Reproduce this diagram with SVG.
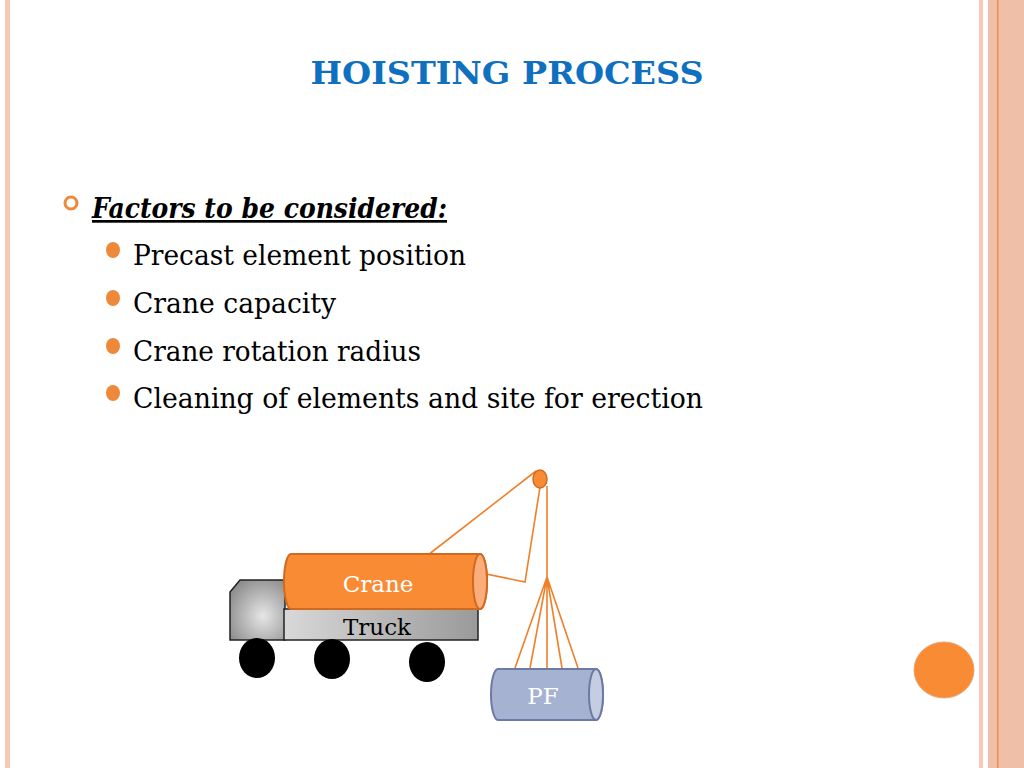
<svg xmlns="http://www.w3.org/2000/svg" width="1024" height="768" viewBox="0 0 1024 768">
<defs>
<style>
.t{font-family:"DejaVu Serif",serif;}
.rope{stroke:#f07f2a;stroke-width:1.6;fill:none}
</style>
<linearGradient id="g" x1="0" y1="0" x2="1" y2="0"><stop offset="0" stop-color="#d8d8d8"/><stop offset="1" stop-color="#9a9a9a"/></linearGradient>
<radialGradient id="cab" cx="0.6" cy="0.6" r="0.7"><stop offset="0" stop-color="#e6e6e6"/><stop offset="1" stop-color="#8c8c8c"/></radialGradient>
</defs>
<rect width="1024" height="768" fill="#fff"/>
<rect x="5" y="0" width="5" height="768" fill="#f7c9b6"/>
<rect x="979" y="0" width="4" height="768" fill="#f7c9b6"/>
<rect x="988" y="0" width="36" height="768" fill="#f0bfa8"/>
<rect x="997" y="0" width="1.5" height="768" fill="#f08a4b"/>
<text class="t" x="507" y="84" text-anchor="middle" font-size="31" font-weight="bold" fill="#1070c0" textLength="393" lengthAdjust="spacingAndGlyphs">HOISTING PROCESS</text>
<circle cx="71" cy="203" r="6" fill="none" stroke="#f0883a" stroke-width="3"/>
<text class="t" x="92" y="218" font-size="27" font-weight="bold" font-style="italic" text-decoration="underline" fill="#000" textLength="355" lengthAdjust="spacingAndGlyphs">Factors to be considered:</text>
<g fill="#f0883a"><ellipse cx="113" cy="250" rx="7" ry="8"/><ellipse cx="113" cy="298" rx="7" ry="8"/><ellipse cx="113" cy="346" rx="7" ry="8"/><ellipse cx="113" cy="393" rx="7" ry="8"/></g>
<g class="t" font-size="27" fill="#000">
<text x="133" y="265" textLength="333" lengthAdjust="spacingAndGlyphs">Precast element position</text>
<text x="133" y="313" textLength="203" lengthAdjust="spacingAndGlyphs">Crane capacity</text>
<text x="133" y="361" textLength="288" lengthAdjust="spacingAndGlyphs">Crane rotation radius</text>
<text x="133" y="408" textLength="570" lengthAdjust="spacingAndGlyphs">Cleaning of elements and site for erection</text>
</g>
<g id="truck">
<path d="M230,592 L240,580 L285,580 L285,640 L230,640 Z" fill="url(#cab)" stroke="#222" stroke-width="1.5"/>
<rect x="284" y="609" width="194" height="31" fill="url(#g)" stroke="#222" stroke-width="1.5"/>
<text class="t" x="377" y="635" text-anchor="middle" font-size="23" fill="#000">Truck</text>
<g fill="#000"><ellipse cx="257" cy="658" rx="18" ry="20"/><ellipse cx="332" cy="659" rx="18" ry="20"/><ellipse cx="427" cy="662" rx="18" ry="20"/></g>
</g>
<g id="connectors">
<line class="rope" x1="536" y1="471" x2="428" y2="555"/>
<polyline class="rope" points="388,554 525,582 540,487"/>
<line class="rope" x1="547" y1="486" x2="547" y2="577"/>
<path class="rope" d="M547,577 L515,668 M547,577 L530,668 M547,577 L547,668 M547,577 L562,668 M547,577 L578,668"/>
</g>
<g id="crane">
<path d="M291,554 L480,554 A7,27.5 0 0 1 480,609 L291,609 A7,27.5 0 0 1 291,554 Z" fill="#f98b35" stroke="#d06a1e" stroke-width="2"/>
<ellipse cx="480" cy="581.5" rx="7" ry="27.5" fill="#fbae7c" stroke="#d06a1e" stroke-width="2"/>
<text class="t" x="378" y="592" text-anchor="middle" font-size="23" fill="#fff">Crane</text>
<ellipse cx="540" cy="479" rx="7" ry="9" fill="#f98b35" stroke="#d06a1e" stroke-width="1.5"/>
</g>
<g id="pf">
<path d="M498,669 L596,669 A7,25.5 0 0 1 596,720 L498,720 A7,25.5 0 0 1 498,669 Z" fill="#a6b2d2" stroke="#6c7ba3" stroke-width="2"/>
<ellipse cx="596" cy="694.5" rx="7" ry="25.5" fill="#c5cde3" stroke="#6c7ba3" stroke-width="2"/>
<text class="t" x="543" y="704" text-anchor="middle" font-size="23" fill="#fff">PF</text>
</g>
<ellipse cx="944" cy="670" rx="30" ry="28" fill="#f98b35" stroke="#f0a070" stroke-width="1"/>
</svg>
